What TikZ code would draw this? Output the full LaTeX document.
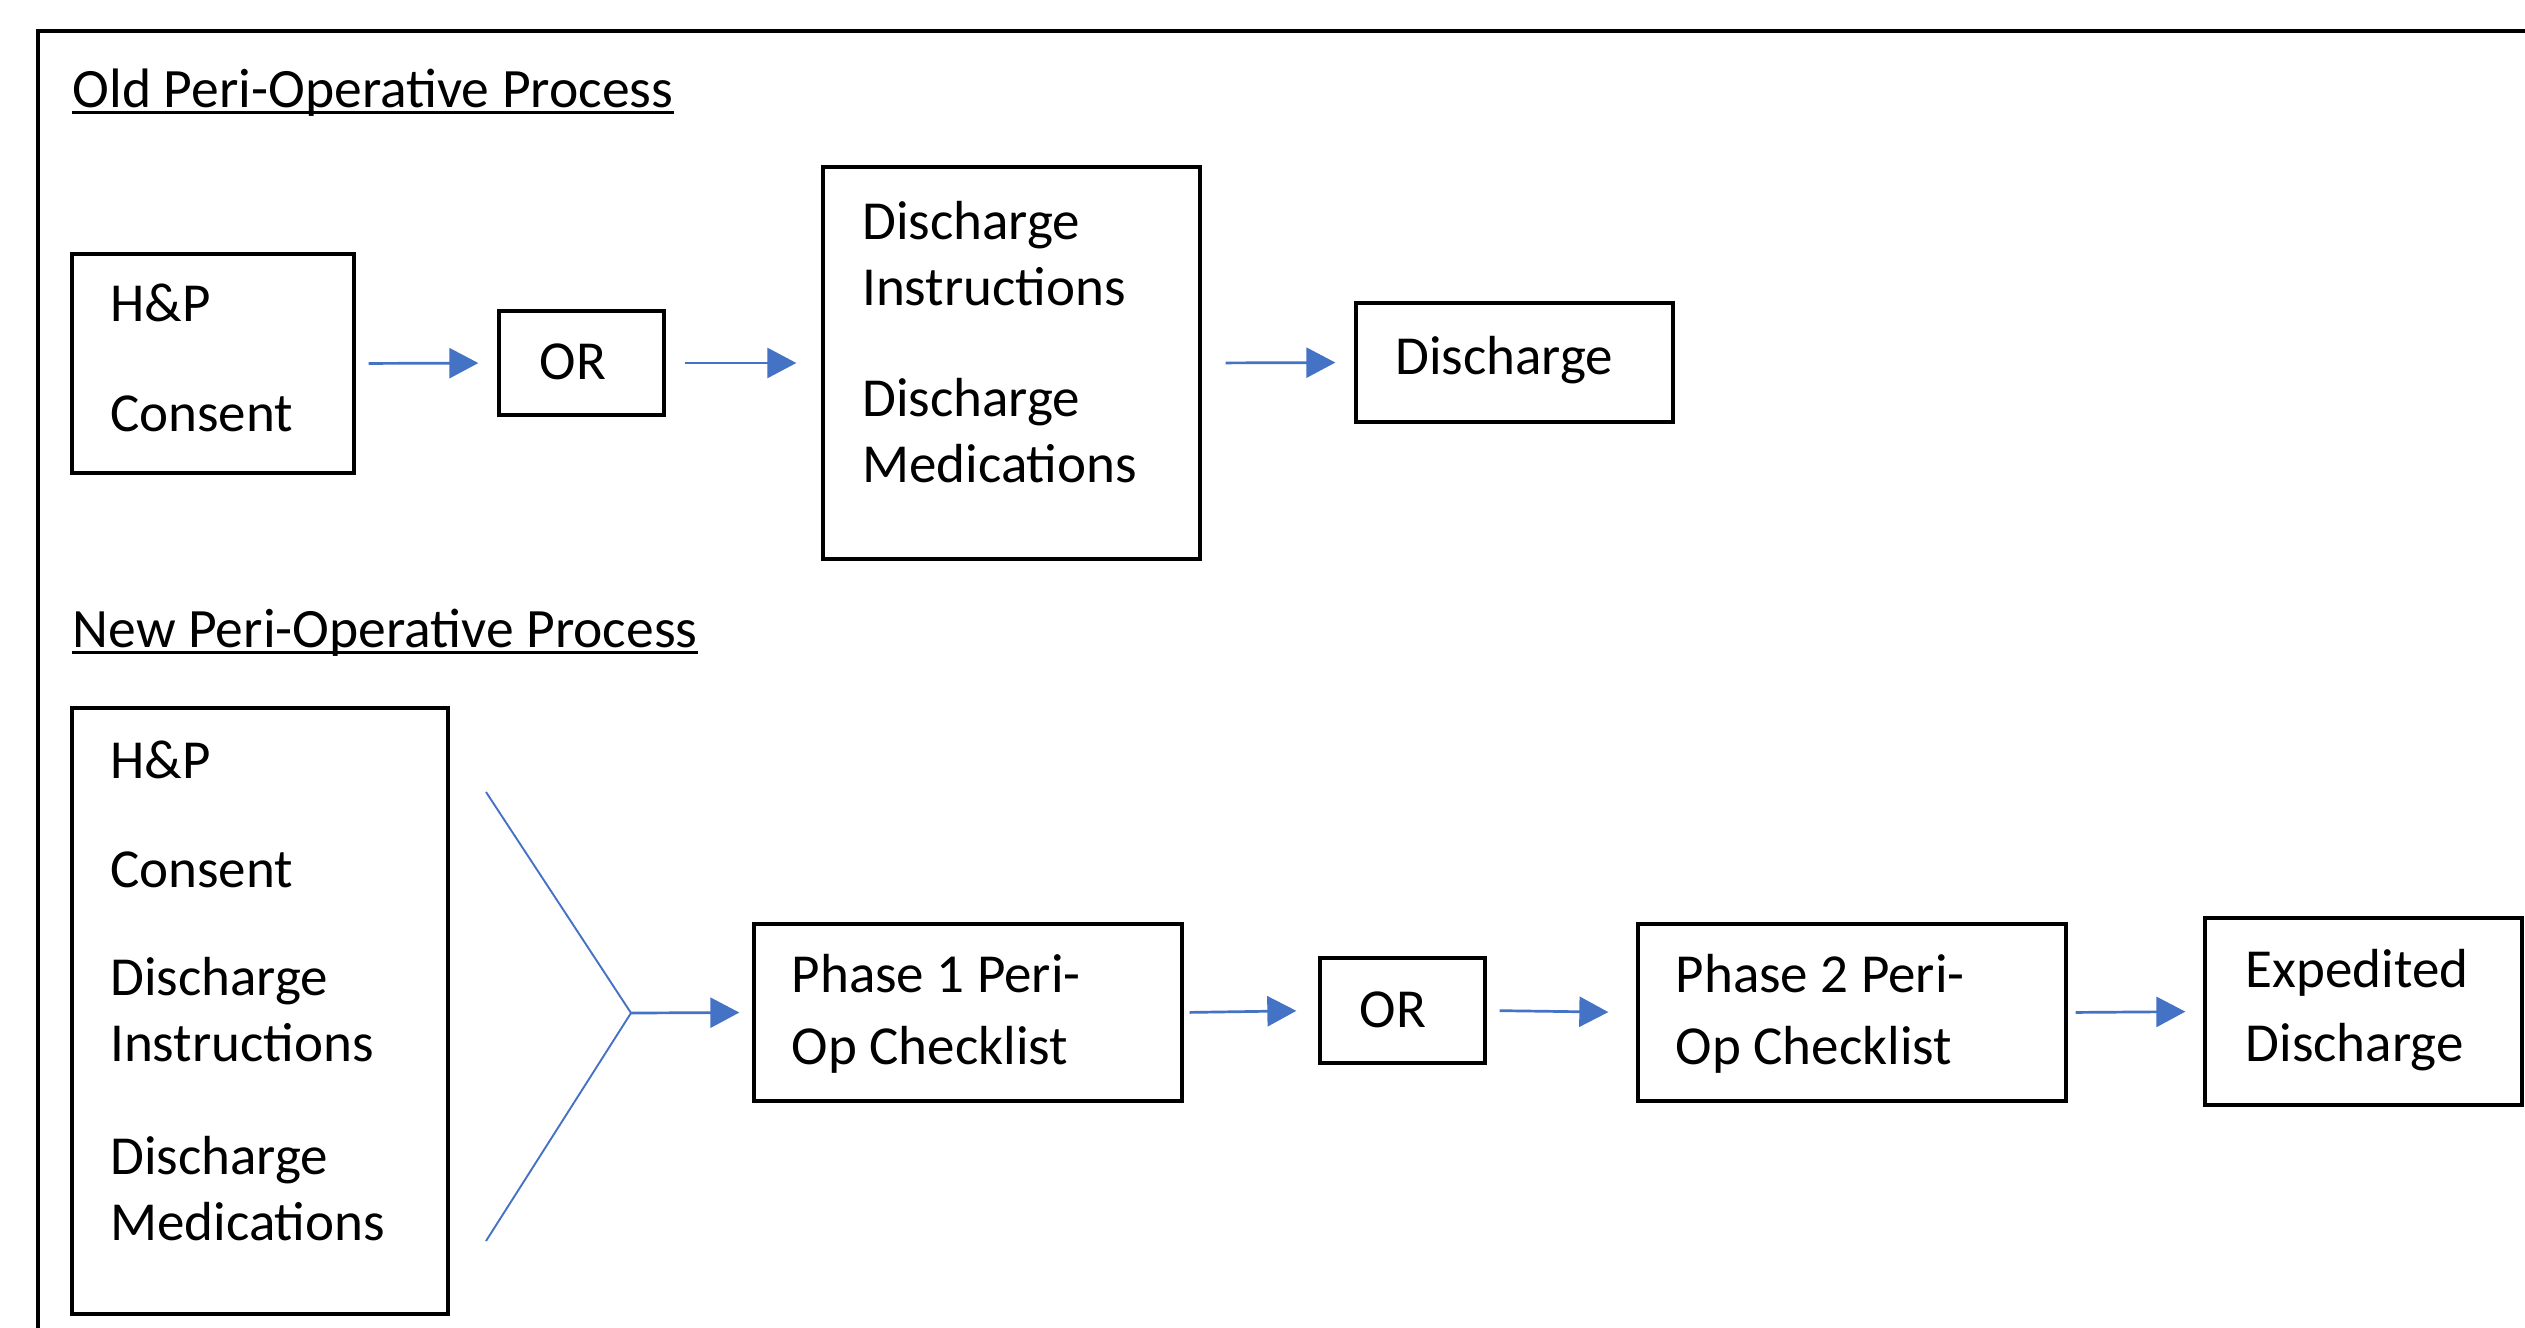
\documentclass[tikz,border=0pt]{standalone}
\usepackage{fontspec}
\setmainfont{Carlito}
\usetikzlibrary{arrows.meta,fit}
\definecolor{arrowblue}{HTML}{4472C4}
\begin{document}
\begin{tikzpicture}[x=0.01cm,y=-0.01cm,
  box/.style={draw=black,line width=0.033cm,inner sep=0pt,rectangle},
  txt/.style={inner sep=0pt,anchor=base west,font=\fontsize{15.65pt}{18.8pt}\selectfont},
  ttl/.style={inner sep=0pt,anchor=base west,font=\fontsize{15.8pt}{18.8pt}\selectfont},
  flow/.style={draw=arrowblue,line width=0.027cm,-{Triangle[length=0.29cm,width=0.30cm]}},
  forkline/.style={draw=arrowblue,line width=0.019cm},
  frameline/.style={draw=black,line width=0.04cm},
  uline/.style={draw=black,line width=0.03cm}]
\useasboundingbox (0,0) rectangle (2525,1328);
\begin{scope}
\clip (0,0) rectangle (2525,1328);
\draw[frameline] (38,1340) -- (38,31) -- (2540,31);
\end{scope}

% titles
\node[ttl] (t1) at (72,108) {Old Peri-Operative Process};
\draw[uline] ([yshift=-0.05cm]t1.base west) -- ([yshift=-0.05cm]t1.base east);
\node[ttl] (t2) at (72,647) {New Peri-Operative Process};
\draw[uline] ([yshift=-0.05cm]t2.base west) -- ([yshift=-0.05cm]t2.base east);

% old process boxes
\node[box,fit={(72,254)(354,473)}] (ohp) {};
\node[txt] (ohp1) at (109.5,322) {H\&P};
\node[txt] (ohp2) at (109.5,432) {Consent};

\node[box,fit={(499,311)(664,415)}] (oor) {};
\node[txt] (oor1) at (539,380) {OR};

\node[box,fit={(823,167)(1200,559)}] (odi) {};
\node[txt] (odi1) at (861.5,240) {Discharge};
\node[txt] (odi2) at (861.5,306) {Instructions};
\node[txt] (odi3) at (861.5,417) {Discharge};
\node[txt] (odi4) at (861.5,483) {Medications};

\node[box,fit={(1356,303)(1673,422)}] (odc) {};
\node[txt] (odc1) at (1394.5,375) {Discharge};

\draw[flow,shorten <=0.13cm,shorten >=0.19cm] (ohp.east) -- (oor.west);
\draw[flow,shorten <=0.19cm,shorten >=0.25cm] (oor.east) -- (odi.west);
\draw[flow,shorten <=0.24cm,shorten >=0.19cm] (odi.east) -- (odc.west);

% new process boxes
\node[box,fit={(72,708)(448,1314)}] (nall) {};
\node[txt] (nall1) at (109.5,778) {H\&P};
\node[txt] (nall2) at (109.5,887) {Consent};
\node[txt] (nall3) at (109.5,995) {Discharge};
\node[txt] (nall4) at (109.5,1061) {Instructions};
\node[txt] (nall5) at (109.5,1174) {Discharge};
\node[txt] (nall6) at (109.5,1240) {Medications};

\node[box,fit={(754,924)(1182,1101)}] (np1) {};
\node[txt] (np1a) at (791,992) {Phase 1 Peri-};
\node[txt] (np1b) at (791,1064) {Op Checklist};

\node[box,fit={(1320,958)(1485,1063)}] (nor) {};
\node[txt] (nor1) at (1359,1027) {OR};

\node[box,fit={(1638,924)(2066,1101)}] (np2) {};
\node[txt] (np2a) at (1675,992) {Phase 2 Peri-};
\node[txt] (np2b) at (1675,1064) {Op Checklist};

\node[box,fit={(2205,918)(2522,1105)}] (ned) {};
\node[txt] (ned1) at (2245,987) {Expedited};
\node[txt] (ned2) at (2245,1061) {Discharge};

% fork
\coordinate (forkTop) at (486,792);
\coordinate (forkBot) at (486,1241);
\coordinate (forkMid) at (631,1013);
\draw[forkline] (forkTop) -- (forkMid) -- (forkBot);
\draw[flow,shorten >=0.13cm] (forkMid) -- (np1.west);

\draw[flow,shorten <=0.06cm,shorten >=0.22cm] (np1.east) -- (nor.west);
\draw[flow,shorten <=0.13cm,shorten >=0.28cm] (nor.east) -- (np2.west);
\draw[flow,shorten <=0.08cm,shorten >=0.18cm] (np2.east) -- (ned.west);
\end{tikzpicture}
\end{document}
